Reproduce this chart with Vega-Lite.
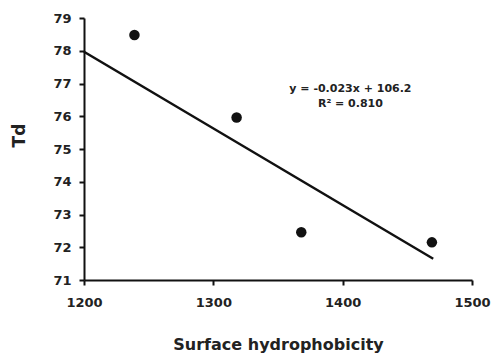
{
  "$schema": "https://vega.github.io/schema/vega-lite/v6.json",
  "width": 388,
  "height": 262,
  "autosize": {"type": "none"},
  "padding": {"left": 84, "top": 18, "right": 19, "bottom": 77},
  "background": "white",
  "config": {
    "view": {"stroke": null},
    "axis": {
      "grid": false,
      "domainColor": "#111",
      "domainWidth": 2,
      "tickColor": "#111",
      "tickWidth": 2,
      "tickSize": 5,
      "labelFont": "DejaVu Sans",
      "labelFontWeight": "bold",
      "labelFontSize": 13,
      "labelColor": "#222",
      "titleFont": "DejaVu Sans",
      "titleFontWeight": "bold",
      "titleColor": "#222"
    }
  },
  "encoding": {
    "x": {"field": "x", "type": "quantitative", "scale": {"domain": [1200, 1500], "nice": false},
      "axis": {"values": [1200, 1300, 1400, 1500], "format": "d", "labelOverlap": false, "labelFlush": false, "title": "Surface hydrophobicity", "titleFontSize": 16, "labelPadding": 11, "titlePadding": 27}},
    "y": {"field": "y", "type": "quantitative", "scale": {"domain": [71, 79], "nice": false, "zero": false},
      "axis": {"values": [71, 72, 73, 74, 75, 76, 77, 78, 79], "tickCount": 9, "format": "d", "labelOverlap": false, "labelFlush": false, "title": "Td", "titleFontSize": 17, "titleY": 117, "labelPadding": 8, "titlePadding": 24}}
  },
  "layer": [
    {
      "data": {"values": [
        {"x": 1200, "y": 77.97},
        {"x": 1470, "y": 71.65}
      ]},
      "mark": {"type": "line", "color": "#111", "strokeWidth": 2.5}
    },
    {
      "data": {"values": [
        {"x": 1239, "y": 78.48},
        {"x": 1318, "y": 75.96},
        {"x": 1368, "y": 72.46},
        {"x": 1469, "y": 72.15}
      ]},
      "mark": {"type": "point", "filled": true, "color": "#111", "opacity": 1, "size": 110}
    },
    {
      "data": {"values": [
        {"x": 1406, "y": 76.83, "label": "y = -0.023x + 106.2"},
        {"x": 1406, "y": 76.37, "label": "R² = 0.810"}
      ]},
      "mark": {"type": "text", "font": "DejaVu Sans", "fontWeight": "bold", "fontSize": 11, "color": "#222", "align": "center", "baseline": "middle"},
      "encoding": {
        "text": {"field": "label"}
      }
    }
  ]
}
